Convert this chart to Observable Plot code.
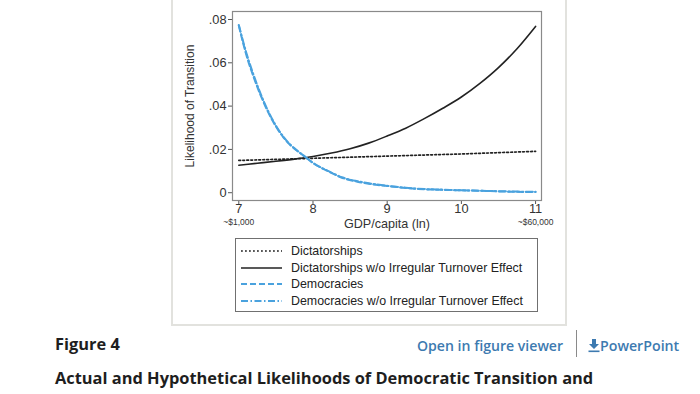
<!DOCTYPE html>
<html>
<head>
<meta charset="utf-8">
<script src="https://cdn.jsdelivr.net/npm/d3@7"></script>
<script src="https://cdn.jsdelivr.net/npm/@observablehq/plot@0.6"></script>
<style>
  html, body { margin: 0; padding: 0; background: #fff; }
  body { width: 700px; height: 394px; position: relative; overflow: hidden; font-family: "Liberation Sans", Arial, sans-serif; }
  #panel { position: absolute; left: 171px; top: -10px; width: 396px; height: 336px; border: 2px solid #e2e2de; box-sizing: border-box; }
  #chart { position: absolute; left: 172px; top: 0px; }
  #legend { position: absolute; left: 235px; top: 238px; width: 303px; height: 74px; border: 1px solid #707070; box-sizing: border-box; font-size: 12.4px; color: #222; }
  .row { position: absolute; left: 4px; height: 16px; display: flex; align-items: center; white-space: nowrap; }
  .row svg { margin-right: 8px; }
  .bt { position: absolute; font-family: "Open Sans", "Noto Sans", sans-serif; white-space: nowrap; }
</style>
</head>
<body>
<div id="panel"></div>
<div id="chart"></div>
<div id="legend"></div>
<div class="bt" style="left:55px; top:336px; font-size:16.4px; line-height:16px; font-weight:700; color:#1e1e1e;">Figure 4</div>
<div class="bt" style="left:417px; top:338px; font-size:14.1px; line-height:15px; font-weight:600; color:#3d7ab0;">Open in figure viewer</div>
<div style="position:absolute; left:576px; top:330px; width:1px; height:27px; background:#8a8a8a;"></div>
<div class="bt" style="left:588px; top:338px; font-size:14.2px; line-height:15px; font-weight:600; color:#3d7ab0; display:flex; align-items:flex-end;">
  <svg width="12" height="15" viewBox="0 0 12 15"><path d="M4 1h4v5h3l-5 5-5-5h3z" fill="#3d7ab0"/><rect x="0.5" y="12.5" width="11" height="1.6" fill="#3d7ab0"/></svg><span>PowerPoint</span>
</div>
<div class="bt" style="left:55px; top:370px; font-size:16.4px; line-height:16px; font-weight:700; color:#1e1e1e;">Actual and Hypothetical Likelihoods of Democratic Transition and</div>

<script>
// ---- data ----
const dictX = [7, 7.5, 8, 8.5, 9, 9.5, 10, 10.5, 11];
const dictatorships = [0.0149, 0.0154, 0.0159, 0.0164, 0.0169, 0.0174, 0.0179, 0.0185, 0.0191];

const dictNoX = [7, 7.25, 7.5, 7.75, 8, 8.25, 8.5, 8.75, 9, 9.25, 9.5, 9.75, 10, 10.25, 10.5, 10.75, 11];
const dictatorshipsNoIrr = [0.0127, 0.0136, 0.0145, 0.0155, 0.0167, 0.0183, 0.0203, 0.0229, 0.0262, 0.0298, 0.0342, 0.0390, 0.0442, 0.0505, 0.0578, 0.0665, 0.0768];

const demX = [7, 7.1, 7.2, 7.3, 7.4, 7.5, 7.6, 7.7, 7.8, 7.9, 8, 8.2, 8.4, 8.6, 8.8, 9, 9.25, 9.5, 9.75, 10, 10.25, 10.5, 10.75, 11];
const democracies = [0.0772, 0.0638, 0.0534, 0.0445, 0.0369, 0.0306, 0.0256, 0.0218, 0.0190, 0.0164, 0.0137, 0.0100, 0.0068, 0.0051, 0.0039, 0.0031, 0.0022, 0.0016, 0.0013, 0.0011, 0.0009, 0.0006, 0.0004, 0.0003];
const democraciesNoIrr = [0.0775, 0.0648, 0.0543, 0.0452, 0.0374, 0.0310, 0.0259, 0.0220, 0.0191, 0.0165, 0.0138, 0.0101, 0.0070, 0.0053, 0.0041, 0.0032, 0.0023, 0.0017, 0.0014, 0.0011, 0.0009, 0.0007, 0.0005, 0.0004];

const xTicks = [7, 8, 9, 10, 11];
const yTicks = [0, 0.02, 0.04, 0.06, 0.08];
const xSubLabels = [{x: 7, label: "~$1,000"}, {x: 11, label: "~$60,000"}];

const seriesNames = ["Dictatorships", "Dictatorships w/o Irregular Turnover Effect", "Democracies", "Democracies w/o Irregular Turnover Effect"];

// ---- styles ----
const BLUE = "#4aa2de";
const styles = [
  {stroke: "#222", width: 1.7, dash: "1.8,2.2"},
  {stroke: "#222", width: 1.6, dash: null},
  {stroke: BLUE, width: 2, dash: "6,3"},
  {stroke: BLUE, width: 2, dash: "7,2.5,1.5,2.5"}
];

const toRows = (xs, ys) => xs.map((x, i) => ({x, y: ys[i]}));
const dataSets = [
  toRows(dictX, dictatorships),
  toRows(dictNoX, dictatorshipsNoIrr),
  toRows(demX, democracies),
  toRows(demX, democraciesNoIrr)
];

const fmtY = d => d === 0 ? "0" : d3.format(".2f")(d).replace(/^0/, "");

const chart = Plot.plot({
  width: 394,
  height: 235,
  marginLeft: 60,
  marginRight: 25,
  marginTop: 11,
  marginBottom: 35,
  style: {fontFamily: "'Liberation Sans', Arial, sans-serif", fontSize: "12.5px", color: "#333", background: "transparent"},
  x: {domain: [6.915, 11.08]},
  y: {domain: [-0.0036, 0.0837]},
  marks: [
    Plot.axisX({ticks: xTicks, tickFormat: () => "", tickSize: 4, label: null, stroke: "#555"}),
    Plot.axisY({ticks: yTicks, tickFormat: () => "", tickSize: 4, label: null, stroke: "#555"}),
    Plot.text(xTicks, {x: d => d, text: d => String(d), frameAnchor: "bottom", lineAnchor: "top", dy: 3.5, fontSize: 12.8, fill: "#333"}),
    Plot.text(yTicks, {y: d => d, text: fmtY, frameAnchor: "left", textAnchor: "end", lineAnchor: "middle", dx: -6, fontSize: 12.8, fill: "#333"}),
    Plot.text(xSubLabels, {x: "x", text: "label", frameAnchor: "bottom", lineAnchor: "middle", dy: 22, fontSize: 8.5, fill: "#333"}),
    Plot.text(["GDP/capita (ln)"], {frameAnchor: "bottom", lineAnchor: "middle", dy: 23, fontSize: 12.6, fill: "#333"}),
    Plot.text(["Likelihood of Transition"], {frameAnchor: "left", textAnchor: "middle", lineAnchor: "middle", dx: -42, rotate: -90, fontSize: 12, fill: "#333"}),
    ...dataSets.map((rows, i) => Plot.line(rows, {
      x: "x", y: "y", curve: "monotone-x",
      stroke: styles[i].stroke, strokeWidth: styles[i].width,
      strokeDasharray: styles[i].dash || undefined
    })),
    Plot.frame({stroke: "#8a8a8a", strokeWidth: 1.2})
  ]
});
document.getElementById("chart").appendChild(chart);

// legend
const legend = document.getElementById("legend");
const rowTops = [4, 20.5, 37, 53.5];
seriesNames.forEach((name, i) => {
  const row = document.createElement("div");
  row.className = "row";
  row.style.top = rowTops[i] + "px";
  const s = styles[i];
  row.innerHTML = `<svg width="43" height="8"><line x1="1" y1="4" x2="42" y2="4" stroke="${s.stroke}" stroke-width="${s.width}" ${s.dash ? `stroke-dasharray="${s.dash}"` : ""}/></svg><span>${name}</span>`;
  legend.appendChild(row);
});
</script>
</body>
</html>
